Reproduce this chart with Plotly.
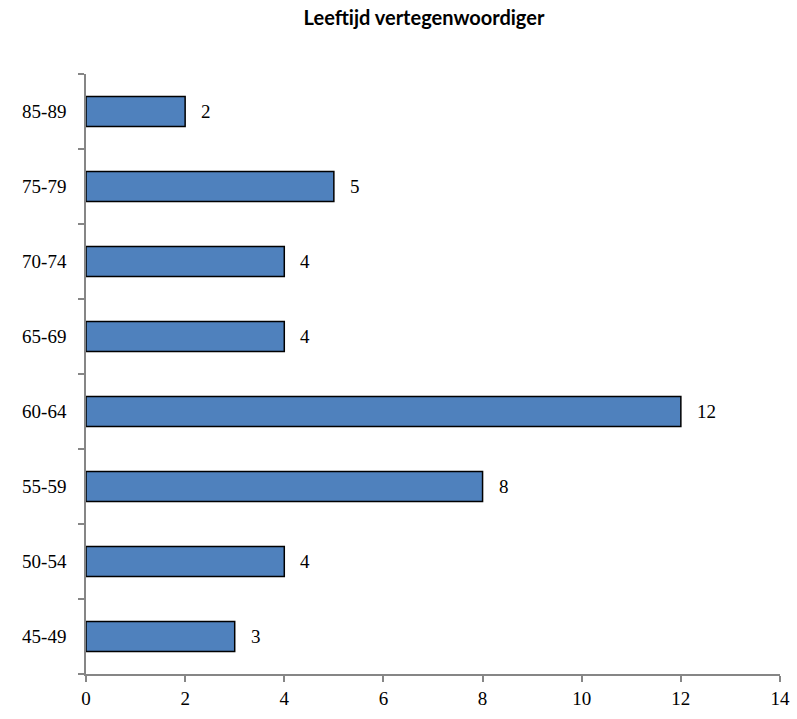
import plotly.graph_objects as go

categories = ["45-49", "50-54", "55-59", "60-64", "65-69", "70-74", "75-79", "85-89"]
values = [3, 4, 8, 12, 4, 4, 5, 2]
x_ticks = [0, 2, 4, 6, 8, 10, 12, 14]

serif = "Liberation Serif, DejaVu Serif, serif"

fig = go.Figure()
fig.add_trace(go.Bar(
    x=values, y=categories, orientation="h",
    marker=dict(color="#4F81BD", line=dict(color="#000000", width=1.5)),
    width=0.4,
))
for c, v in zip(categories, values):
    fig.add_annotation(x=v, y=c, text=str(v), showarrow=False,
                       xanchor="left", xshift=14,
                       font=dict(family=serif, size=19, color="#000"))

fig.update_layout(
    width=797, height=719,
    margin=dict(l=86, r=17, t=74, b=45, autoexpand=False),
    plot_bgcolor="white", paper_bgcolor="white",
    showlegend=False,
    title=dict(text="<b>Leeftijd vertegenwoordiger</b>", x=0.532, xanchor="center",
               y=0.975, yanchor="middle",
               font=dict(family="Lato, Open Sans, sans-serif", size=20, color="#000")),
    xaxis=dict(range=[0, 14], tickvals=x_ticks, ticktext=[str(t) for t in x_ticks],
               automargin=False,
               showgrid=False, zeroline=False, showline=True, linecolor="#868686",
               linewidth=1.5, ticks="outside", ticklen=6, tickcolor="#868686",
               tickwidth=1.5,
               tickfont=dict(family=serif, size=19, color="#000")),
    yaxis=dict(categoryorder="array", categoryarray=categories, automargin=False,
               showgrid=False, zeroline=False, showline=True, linecolor="#868686",
               linewidth=1.5, ticks="outside", ticklen=6, tickcolor="#868686",
               tickwidth=1.5, tickson="boundaries", ticklabelstandoff=14,
               tickfont=dict(family=serif, size=19, color="#000")),
)
fig.write_html("out.html")
